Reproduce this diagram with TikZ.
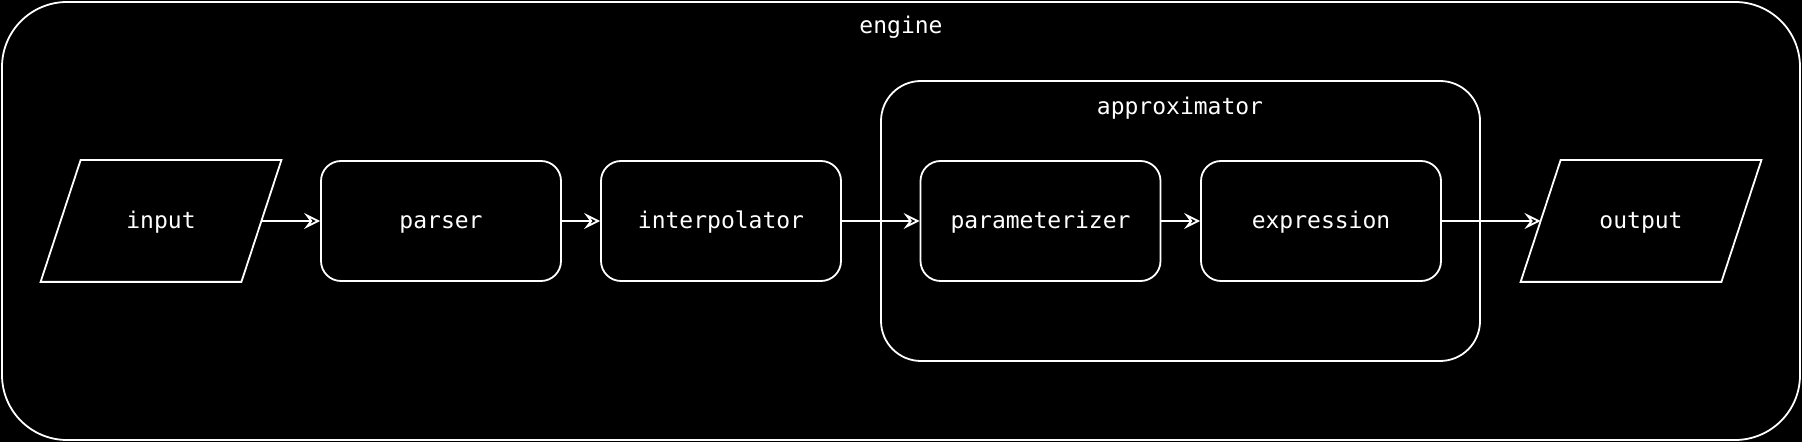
\documentclass[tikz,border=0pt]{standalone}
\usepackage{fontspec}
\setmonofont{DejaVu Sans Mono}
\usetikzlibrary{arrows.meta}
\begin{document}
\begin{tikzpicture}[x=0.5pt,y=-0.5pt,
  every node/.style={text=white,font=\ttfamily\fontsize{11.5}{13}\selectfont,text height=1em,text depth=0.2em},
  box/.style={draw=white,line width=0.9pt,rounded corners=10pt,minimum width=120pt,minimum height=60pt,inner sep=0pt},
  io/.style={minimum width=120pt,minimum height=60.5pt,inner sep=0pt},
  slant/.style={draw=white,line width=0.9pt},
  container/.style={draw=white,line width=0.9pt,inner sep=0pt},
  flow/.style={draw=white,line width=0.9pt,-{Stealth[open,length=8pt,width=8pt,inset=3pt]}}]
\fill[black] (0,0) rectangle (1802,442);
\useasboundingbox (0,0) rectangle (1802,442);
\node[container,rounded corners=32.5pt,minimum width=899pt,minimum height=219pt] (engine) at (901,221) {};
\node (enginelbl) at (901,26) {engine};
\node[container,rounded corners=20pt,minimum width=299.5pt,minimum height=140pt] (approx) at (1180.5,221) {};
\node (approxlbl) at (1180,107) {approximator};
\node[io] (input) at (161,221) {input};
\draw[slant] ([xshift=20pt]input.north west) -- (input.north east) -- ([xshift=-20pt]input.south east) -- (input.south west) -- cycle;
\coordinate (inputR) at (261,221);
\node[box] (parser) at (441,221) {parser};
\node[box] (interp) at (721,221) {interpolator};
\node[box] (param) at (1040.5,221) {parameterizer};
\node[box] (expr) at (1321,221) {expression};
\node[io] (output) at (1641,221) {output};
\draw[slant] ([xshift=20pt]output.north west) -- (output.north east) -- ([xshift=-20pt]output.south east) -- (output.south west) -- cycle;
\coordinate (outputL) at (1540.5,221);
\draw[flow] (inputR) -- (parser);
\draw[flow] (parser) -- (interp);
\draw[flow] (interp) -- (param);
\draw[flow] (param) -- (expr);
\draw[flow] (expr) -- (outputL);
\end{tikzpicture}
\end{document}
